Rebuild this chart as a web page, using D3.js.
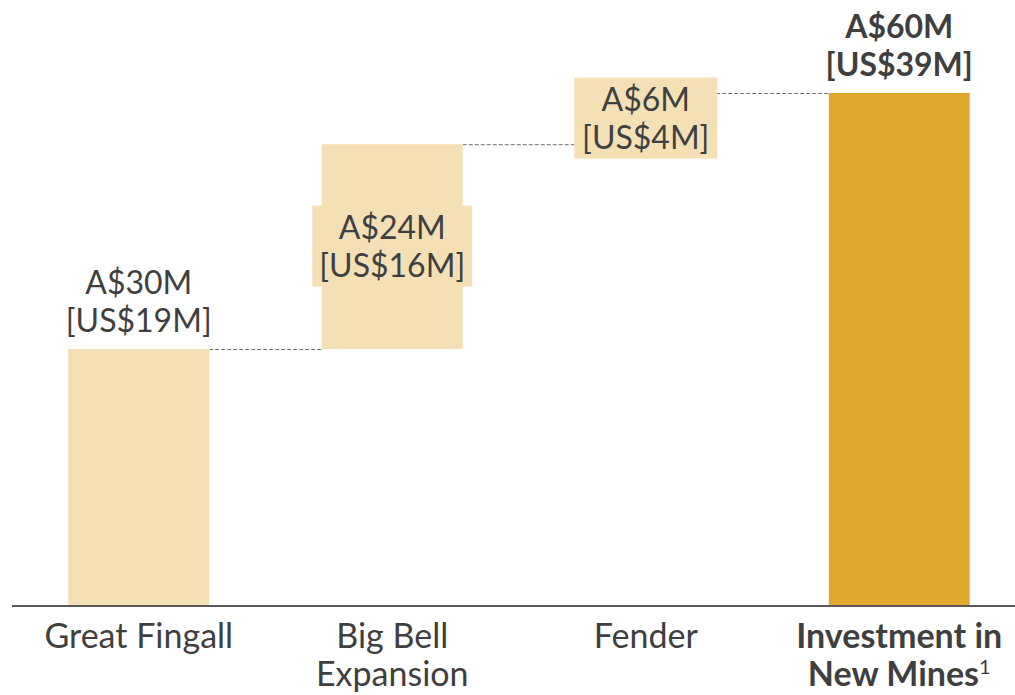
<!DOCTYPE html>
<html>
<head>
<meta charset="utf-8">
<script src="https://cdn.jsdelivr.net/npm/d3@7"></script>
<style>
  body { margin: 0; background: #fff; }
  svg { display: block; font-family: Lato, "Open Sans", sans-serif; }
</style>
</head>
<body>
<svg width="1015" height="695"></svg>
<script>
const categories = ['Great Fingall', 'Big Bell Expansion', 'Fender', 'Investment in New Mines'];
const catLines = [['Great Fingall'], ['Big Bell', 'Expansion'], ['Fender'], ['Investment in', 'New Mines']];
const audValues = [30, 24, 6, 60];
const usdValues = [19, 16, 4, 39];
const isTotal = [false, false, false, true];

const svg = d3.select('svg');
const width = +svg.attr('width');
const baseY = 605;

const light = '#F5E0B6';
const dark = '#E2A82E';
const textColor = '#3f3f3f';

// running start/end per bar
let run = 0;
const data = categories.map((c, i) => {
  let start, end;
  if (isTotal[i]) { start = 0; end = audValues[i]; }
  else { start = run; end = run + audValues[i]; run = end; }
  return { cat: c, lines: catLines[i], aud: audValues[i], usd: usdValues[i], start, end, total: isTotal[i] };
});

const x = d3.scaleBand()
  .domain(categories)
  .range([12, 1026])
  .paddingInner(0.444)
  .paddingOuter(0.222);

const y = d3.scaleLinear()
  .domain([0, 60])
  .range([baseY, 93]);

const g = svg.append('g');

// connectors
data.slice(0, -1).forEach((d, i) => {
  const next = data[i + 1];
  g.append('line')
    .attr('x1', x(d.cat) + x.bandwidth())
    .attr('x2', x(next.cat))
    .attr('y1', y(d.end) + 0.5)
    .attr('y2', y(d.end) + 0.5)
    .attr('stroke', '#707070')
    .attr('stroke-width', 1)
    .attr('stroke-dasharray', '4,2');
});

g.selectAll('rect.bar')
  .data(data)
  .enter().append('rect')
  .attr('class', 'bar')
  .attr('x', d => x(d.cat))
  .attr('width', x.bandwidth())
  .attr('y', d => y(Math.max(d.start, d.end)))
  .attr('height', d => Math.abs(y(d.start) - y(d.end)))
  .attr('fill', d => d.total ? dark : light);

const fs = 32;
const catFs = 34;
const lh = 38;

data.forEach((d, i) => {
  const cx = x(d.cat) + x.bandwidth() / 2;
  const lbl = g.append('g');
  let cy;
  const inside = i === 1 || i === 2;
  if (inside) {
    cy = (y(d.start) + y(d.end)) / 2;
  } else {
    cy = y(d.end) - 47;
  }
  const t = lbl.append('text')
    .attr('text-anchor', 'middle')
    .attr('fill', textColor)
    .attr('font-size', fs)
    .attr('font-weight', d.total ? 700 : 400);
  t.append('tspan').attr('x', cx).attr('y', cy - lh / 2 + 11).text(`A$${d.aud}M`);
  t.append('tspan').attr('x', cx).attr('y', cy + lh / 2 + 11).text(`[US$${d.usd}M]`);
  if (inside) {
    const bb = t.node().getBBox();
    const w = Math.max(bb.width + 14, x.bandwidth() + 2);
    lbl.insert('rect', 'text')
      .attr('x', cx - w / 2)
      .attr('y', cy - 41)
      .attr('width', w)
      .attr('height', 81)
      .attr('fill', light);
  }
});

// axis line
svg.append('line')
  .attr('x1', 12).attr('x2', width)
  .attr('y1', baseY + 1).attr('y2', baseY + 1)
  .attr('stroke', '#595959')
  .attr('stroke-width', 2);

// category labels
data.forEach(d => {
  const cx = x(d.cat) + x.bandwidth() / 2;
  const t = svg.append('text')
    .attr('text-anchor', 'middle')
    .attr('fill', textColor)
    .attr('font-size', catFs)
    .attr('font-weight', d.total ? 700 : 400);
  d.lines.forEach((ln, j) => {
    t.append('tspan').attr('x', cx).attr('y', 648 + j * 38).text(ln);
    if (d.total && j === d.lines.length - 1) {
      t.append('tspan').attr('font-size', 20).attr('font-weight', 400).attr('dy', -12).text('1');
    }
  });
});
</script>
</body>
</html>
